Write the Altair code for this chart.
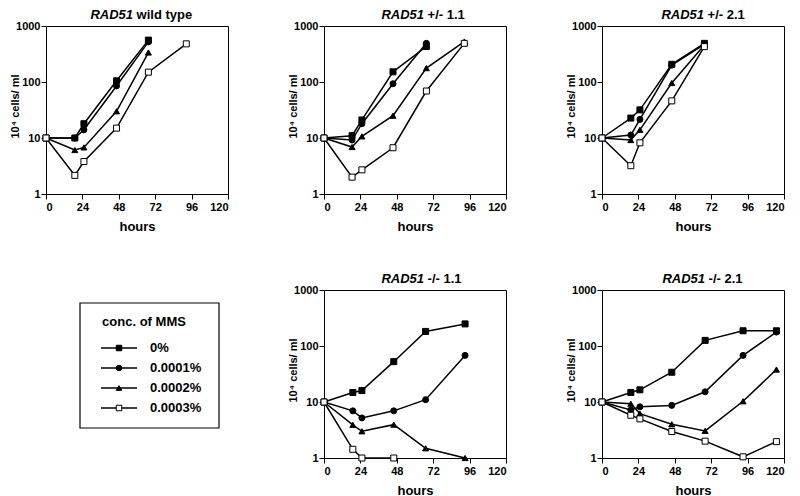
import altair as alt
import pandas as pd

FONT = "Liberation Sans"
SERIES = ["0%", "0.0001%", "0.0002%", "0.0003%"]
SHAPES = ["square", "circle", "triangle-up", "square"]
FILLS = ["black", "black", "black", "white"]
X_TICKS = [0, 24, 48, 72, 96, 120]
Y_TICKS = [1, 10, 100, 1000]
LEGEND_TITLE = "conc. of MMS"
Y_TITLE = "10\u2074 cells/ ml"
X_TITLE = "hours"

# ---- RAD51 wild type
WT_HOURS = [0, 19, 25, 46.5, 67.5, 92.5]
WT_0 = [10, 10, 18, 105, 560]
WT_1 = [10, 10, 14, 85, 520]
WT_2 = [10, 6.1, 6.8, 30, 336]
WT_3 = [10, 2.15, 3.8, 15, 150, 480]

# ---- RAD51 +/- 1.1
H11_HOURS = [0, 18.5, 25, 45.5, 67.5, 92.5]
H11_0 = [10, 11, 21, 152, 430]
H11_1 = [10, 9.2, 18, 93, 490]
H11_2 = [10, 6.9, 10.7, 25, 177, 527]
H11_3 = [10, 2.0, 2.7, 6.7, 69, 490]

# ---- RAD51 +/- 2.1
H21_HOURS = [0, 19, 25, 46, 67.5]
H21_0 = [10, 22.7, 31.8, 207, 490]
H21_1 = [10, 11.3, 21.5, 200, 470]
H21_2 = [10, 9.2, 14, 96, 457]
H21_3 = [10, 3.2, 8.2, 46, 428]

# ---- RAD51 -/- 1.1
K11_HOURS = [0, 19, 25, 46, 67, 93]
K11_0 = [10, 14.8, 16, 52.5, 182, 248]
K11_1 = [10, 6.95, 5.2, 6.95, 11, 68]
K11_2 = [10, 3.9, 3.0, 3.94, 1.49, 1.0]
K11_3 = [10, 1.43, 1.0, 1.0]

# ---- RAD51 -/- 2.1
K21_HOURS = [0, 19, 25, 46, 68, 93, 115]
K21_0 = [10, 14.8, 16.5, 34, 126, 187, 187]
K21_1 = [10, 7.2, 8.2, 8.7, 15.2, 68, 177]
K21_2 = [10, 9.3, 6.2, 4.0, 3.05, 10.3, 38]
K21_3 = [10, 5.8, 5.0, 2.97, 2.0, 1.05, 1.96]

W = 182
H = 168


def table(hours, *series_vals):
    rows = []
    for name, vals in zip(SERIES, series_vals):
        for h, v in zip(hours, vals):
            rows.append({"hours": h, "cells": v, "series": name})
    return pd.DataFrame(rows)


shape_enc = alt.Shape("series:N", scale=alt.Scale(domain=SERIES, range=SHAPES), legend=None)
fill_enc = alt.Fill("series:N", scale=alt.Scale(domain=SERIES, range=FILLS), legend=None)


def panel(df, ta, tb, split):
    x = alt.X("hours:Q", scale=alt.Scale(domain=[0, 120], nice=False, zero=False),
              axis=alt.Axis(values=X_TICKS, title=X_TITLE, titleY=32, titleBaseline="middle"))
    y = alt.Y("cells:Q", scale=alt.Scale(type="log", domain=[1, 1000], nice=False),
              axis=alt.Axis(values=Y_TICKS, format="d", title=Y_TITLE, titleX=-31,
                            titleY=H / 2 - 4, titleBaseline="middle"))
    base = alt.Chart(df)
    lines = base.mark_line(color="black", strokeWidth=1.5).encode(
        x=x, y=y, detail="series:N", order="hours:Q")
    pts = base.mark_point(filled=True, size=36, stroke="black", strokeWidth=1, opacity=1).encode(
        x=x, y=y, shape=shape_enc, fill=fill_enc)
    tdf = pd.DataFrame({"a": [ta], "b": [tb]})
    t1 = alt.Chart(tdf).mark_text(align="right", baseline="middle", font=FONT, fontSize=13,
                                  fontWeight="bold", fontStyle="italic", color="black").encode(
        text="a:N", x=alt.value(split), y=alt.value(-11))
    t2 = alt.Chart(tdf).mark_text(align="left", baseline="middle", font=FONT, fontSize=13,
                                  fontWeight="bold", color="black").encode(
        text="b:N", x=alt.value(split + 3.6), y=alt.value(-11))
    return alt.layer(lines, pts, t1, t2).properties(width=W, height=H)


p1 = panel(table(WT_HOURS, WT_0, WT_1, WT_2, WT_3), "RAD51", "wild type", 87)
p2 = panel(table(H11_HOURS, H11_0, H11_1, H11_2, H11_3), "RAD51", "+/- 1.1", 100)
p3 = panel(table(H21_HOURS, H21_0, H21_1, H21_2, H21_3), "RAD51", "+/- 2.1", 102)
p4 = panel(table(K11_HOURS, K11_0, K11_1, K11_2, K11_3), "RAD51", "-/- 1.1", 100)
p5 = panel(table(K21_HOURS, K21_0, K21_1, K21_2, K21_3), "RAD51", "-/- 2.1", 103)

# ---- legend panel
leg_df = pd.DataFrame({"series": SERIES, "idx": [0, 1, 2, 3]})
ly = alt.Y("idx:Q", scale=alt.Scale(domain=[0, 3], range=[58, 118]), axis=None)
box = alt.Chart(pd.DataFrame({"k": [0]})).mark_rect(filled=False, stroke="black", strokeWidth=1.2).encode(
    x=alt.value(34), x2=alt.value(173), y=alt.value(13), y2=alt.value(138))
ltitle = alt.Chart(pd.DataFrame({"t": [LEGEND_TITLE]})).mark_text(
    align="center", baseline="middle", font=FONT, fontSize=13, fontWeight="bold", color="black").encode(
    text="t:N", x=alt.value(98), y=alt.value(32))
lrule = alt.Chart(leg_df).mark_rule(color="black", strokeWidth=1.4).encode(
    x=alt.value(55), x2=alt.value(91), y=ly)
lpts = alt.Chart(leg_df).mark_point(filled=True, size=30, stroke="black", strokeWidth=1, opacity=1).encode(
    x=alt.value(73), y=ly, shape=shape_enc, fill=fill_enc)
ltext = alt.Chart(leg_df).mark_text(align="left", baseline="middle", font=FONT, fontSize=13,
                                    fontWeight="bold", color="black").encode(
    x=alt.value(104), y=ly, text="series:N")
legend = alt.layer(box, ltitle, lrule, lpts, ltext).properties(
    width=W, height=H, view=alt.ViewBackground(stroke="transparent"))

chart = alt.concat(p1, p2, p3, legend, p4, p5, columns=3, spacing=96, bounds="flush",
                   padding=0).resolve_scale(
    x="independent", y="independent"
).configure_view(stroke="black", strokeWidth=1).configure_axis(
    grid=False, domainColor="black", tickColor="black", labelColor="black", titleColor="black",
    labelFont=FONT, titleFont=FONT, labelFontSize=11, labelFontWeight="bold",
    titleFontWeight="bold", tickSize=5, labelPadding=2, domainWidth=1, tickWidth=1
).configure_axisX(titleFontSize=13).configure_axisY(titleFontSize=11, labelPadding=1)

chart.save("out.html", embed_options={"renderer": "svg", "actions": False})
